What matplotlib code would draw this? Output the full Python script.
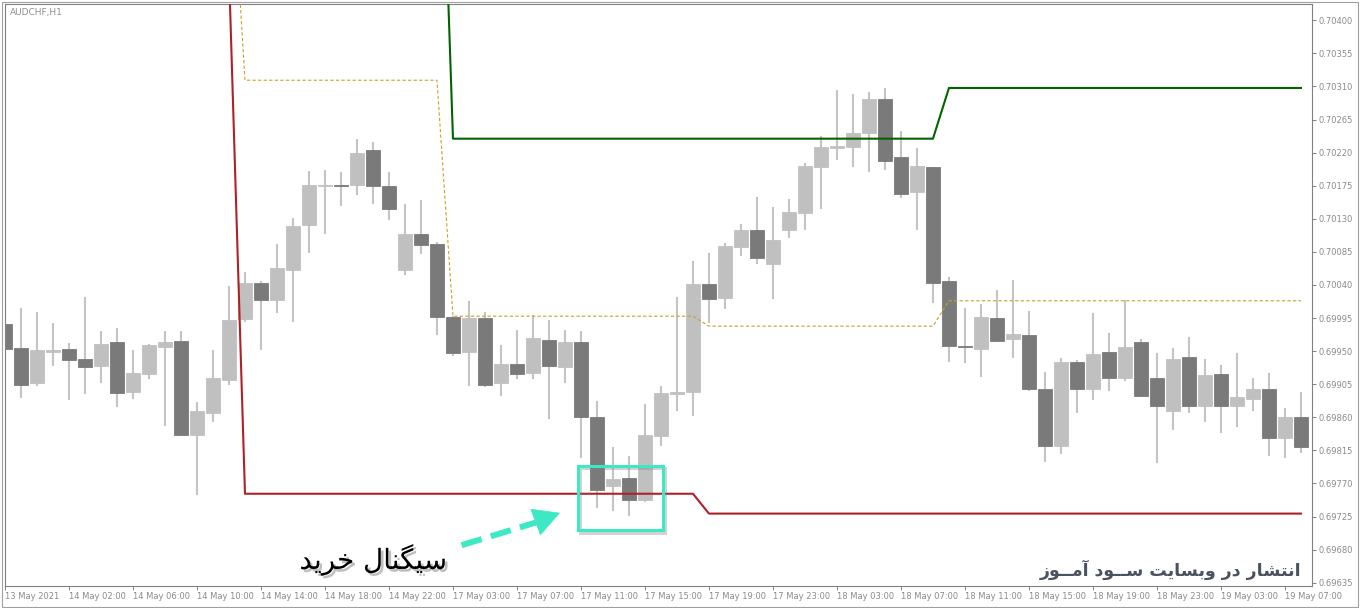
import numpy as np
import matplotlib

matplotlib.use("Agg")
from matplotlib import pyplot as plt
from matplotlib import patheffects as pe
from matplotlib import font_manager, ft2font
from matplotlib.patches import Rectangle

nan = np.nan

# AUDCHF H1 candles, bar 0 = 13 May 2021 22:00
opens = [0.69987, 0.69954, 0.69906, 0.69949, 0.69953, 0.69939, 0.69930, 0.69962, 0.69894, 0.69919,
         0.69955, 0.69964, 0.69836, 0.69866, 0.69911, 0.69994, 0.70042, 0.70020, 0.70061, 0.70121,
         0.70174, 0.70176, 0.70176, 0.70224, 0.70175, 0.70061, 0.70109, 0.70096, 0.69996, 0.69949,
         0.69995, 0.69906, 0.69933, 0.69920, 0.69965, 0.69928, 0.69962, 0.69860, 0.69766, 0.69778,
         0.69748, 0.69834, 0.69892, 0.69895, 0.70041, 0.70022, 0.70092, 0.70115, 0.70069, 0.70115,
         0.70138, 0.70201, 0.70227, 0.70228, 0.70247, 0.70293, 0.70214, 0.70166, 0.70200, 0.70045,
         0.69957, 0.69953, 0.69995, 0.69967, 0.69972, 0.69899, 0.69821, 0.69935, 0.69899, 0.69949,
         0.69914, 0.69962, 0.69914, 0.69869, 0.69942, 0.69875, 0.69919, 0.69875, 0.69885, 0.69899,
         0.69832, 0.69861]
highs = [0.70014, 0.70009, 0.70003, 0.69988, 0.69961, 0.70024, 0.69977, 0.69981, 0.69952, 0.69960,
         0.69977, 0.69977, 0.69881, 0.69951, 0.70039, 0.70057, 0.70046, 0.70096, 0.70131, 0.70195,
         0.70196, 0.70194, 0.70238, 0.70234, 0.70194, 0.70150, 0.70155, 0.70098, 0.69998, 0.70018,
         0.70003, 0.69958, 0.69979, 0.69999, 0.69992, 0.69979, 0.69977, 0.69882, 0.69820, 0.69808,
         0.69878, 0.69903, 0.70024, 0.70072, 0.70083, 0.70097, 0.70123, 0.70160, 0.70146, 0.70157,
         0.70206, 0.70243, 0.70305, 0.70300, 0.70303, 0.70308, 0.70249, 0.70227, 0.70201, 0.70051,
         0.70008, 0.70014, 0.70033, 0.70047, 0.70005, 0.69921, 0.69941, 0.69938, 0.70002, 0.69975,
         0.70020, 0.69966, 0.69947, 0.69954, 0.69969, 0.69939, 0.69931, 0.69948, 0.69914, 0.69920,
         0.69873, 0.69895]
lows = [0.69943, 0.69886, 0.69903, 0.69930, 0.69883, 0.69892, 0.69906, 0.69874, 0.69885, 0.69912,
        0.69848, 0.69836, 0.69754, 0.69853, 0.69904, 0.69990, 0.69952, 0.70002, 0.69990, 0.70083,
        0.70109, 0.70147, 0.70163, 0.70150, 0.70129, 0.70053, 0.70082, 0.69972, 0.69943, 0.69902,
        0.69901, 0.69889, 0.69912, 0.69912, 0.69858, 0.69907, 0.69805, 0.69737, 0.69732, 0.69726,
        0.69745, 0.69821, 0.69868, 0.69862, 0.69988, 0.70007, 0.70080, 0.70068, 0.70021, 0.70104,
        0.70115, 0.70144, 0.70210, 0.70201, 0.70194, 0.70196, 0.70158, 0.70115, 0.70016, 0.69935,
        0.69934, 0.69915, 0.69962, 0.69940, 0.69896, 0.69799, 0.69810, 0.69866, 0.69883, 0.69896,
        0.69909, 0.69888, 0.69798, 0.69843, 0.69866, 0.69853, 0.69839, 0.69847, 0.69868, 0.69808,
        0.69805, 0.69811]
closes = [0.69953, 0.69904, 0.69951, 0.69952, 0.69938, 0.69929, 0.69960, 0.69893, 0.69920, 0.69958,
          0.69962, 0.69836, 0.69869, 0.69914, 0.69992, 0.70042, 0.70019, 0.70063, 0.70120, 0.70176,
          0.70176, 0.70175, 0.70220, 0.70175, 0.70144, 0.70109, 0.70095, 0.69997, 0.69948, 0.69995,
          0.69904, 0.69933, 0.69919, 0.69968, 0.69930, 0.69962, 0.69860, 0.69761, 0.69776, 0.69748,
          0.69836, 0.69893, 0.69894, 0.70041, 0.70021, 0.70093, 0.70115, 0.70077, 0.70101, 0.70139,
          0.70202, 0.70228, 0.70229, 0.70247, 0.70293, 0.70209, 0.70164, 0.70202, 0.70043, 0.69957,
          0.69956, 0.69996, 0.69964, 0.69973, 0.69899, 0.69821, 0.69935, 0.69899, 0.69946, 0.69913,
          0.69956, 0.69889, 0.69875, 0.69939, 0.69875, 0.69918, 0.69875, 0.69888, 0.69899, 0.69832,
          0.69861, 0.69819]

# channel lines (upper / lower / middle), one value per bar
upper_line = [nan] * 14 + [0.70881] * 14 + [0.70239] * 31 + [0.70308] * 23
lower_line = [nan] * 14 + [0.70467] + [0.69756] * 29 + [0.69729] * 38
middle_line = [nan] * 14 + [0.70674] + [0.703185] * 13 + [0.699975] * 16 + [0.69984] * 15 + [0.700185] * 23

x_labels = ["13 May 2021", "14 May 02:00", "14 May 06:00", "14 May 10:00", "14 May 14:00",
            "14 May 18:00", "14 May 22:00", "17 May 03:00", "17 May 07:00", "17 May 11:00",
            "17 May 15:00", "17 May 19:00", "17 May 23:00", "18 May 03:00", "18 May 07:00",
            "18 May 11:00", "18 May 15:00", "18 May 19:00", "18 May 23:00", "19 May 03:00",
            "19 May 07:00"]
y_ticks = [0.70400, 0.70355, 0.70310, 0.70265, 0.70220, 0.70175, 0.70130, 0.70085, 0.70040,
           0.69995, 0.69950, 0.69905, 0.69860, 0.69815, 0.69770, 0.69725, 0.69680, 0.69635]

signal_text = "سیگنال خرید"
site_text = "انتشار در وبسایت ســود آمــوز"

# --- simple persian shaping (matplotlib has no complex text layout)
DUAL = {
    "ب": (0xFE8F, 0xFE90, 0xFE91, 0xFE92),
    "ت": (0xFE95, 0xFE96, 0xFE97, 0xFE98),
    "خ": (0xFEA5, 0xFEA6, 0xFEA7, 0xFEA8),
    "س": (0xFEB1, 0xFEB2, 0xFEB3, 0xFEB4),
    "ش": (0xFEB5, 0xFEB6, 0xFEB7, 0xFEB8),
    "ل": (0xFEDD, 0xFEDE, 0xFEDF, 0xFEE0),
    "م": (0xFEE1, 0xFEE2, 0xFEE3, 0xFEE4),
    "ن": (0xFEE5, 0xFEE6, 0xFEE7, 0xFEE8),
    "ی": (0xFBFC, 0xFBFD, 0xFBFE, 0xFBFF),
    "گ": (0xFB92, 0xFB93, 0xFB94, 0xFB95),
    "ـ": (0x640, 0x640, 0x640, 0x640),
}
RIGHT = {
    "ا": (0xFE8D, 0xFE8E),
    "آ": (0xFE81, 0xFE82),
    "د": (0xFEA9, 0xFEAA),
    "ر": (0xFEAD, 0xFEAE),
    "ز": (0xFEAF, 0xFEB0),
    "و": (0xFEED, 0xFEEE),
}

cmap = ft2font.FT2Font(font_manager.findfont("DejaVu Sans")).get_charmap()
if 0xFBFF not in cmap:
    DUAL["ی"] = (0xFEEF, 0xFEF0, 0xFEF3, 0xFEF4)


def shape(text):
    out = []
    for i, ch in enumerate(text):
        prev = text[i - 1] if i > 0 else ""
        nxt = text[i + 1] if i + 1 < len(text) else ""
        joins_prev = prev in DUAL and (ch in DUAL or ch in RIGHT)
        if ch in DUAL:
            joins_next = nxt in DUAL or nxt in RIGHT
            idx = {(False, False): 0, (True, False): 1, (False, True): 2, (True, True): 3}[(joins_prev, joins_next)]
            code = DUAL[ch][idx]
            out.append(chr(code) if code in cmap else ch)
        elif ch in RIGHT:
            out.append(chr(RIGHT[ch][1 if joins_prev else 0]))
        else:
            out.append(ch)
    return "".join(reversed(out))


W, H = 1360, 608
fig = plt.figure(figsize=(W / 100, H / 100), dpi=100)
fig.patch.set_facecolor("white")
ax = fig.add_axes([4.5 / W, 22 / H, (1312 - 4.5) / W, (586 - 4.3) / H])

x = np.arange(len(opens))
o = np.array(opens)
c = np.array(closes)
bull = c >= o
body_col = np.where(bull, "#c0c0c0", "#7a7a7a")

ax.vlines(x, lows, highs, color="#c4c4c4", lw=1.5, zorder=1)
ax.bar(x, np.abs(c - o), bottom=np.minimum(o, c), width=0.9, color=body_col,
       edgecolor=body_col, linewidth=0.6, zorder=2)

ax.plot(x, upper_line, color="#006400", lw=1.5, zorder=4)
ax.plot(x, lower_line, color="#ae2128", lw=1.5, zorder=4)
ax.plot(x, middle_line, color="#c9a227", lw=0.8, ls=(0, (3, 2)), zorder=3)

ax.set_xlim(-0.03, 81.69)
ax.set_ylim(0.696305, 0.704218)

ax.set_xticks(np.arange(0, len(opens), 4))
ax.set_xticklabels(x_labels)
for lab in ax.get_xticklabels():
    lab.set_ha("left")
ax.set_yticks(y_ticks)
ax.set_yticklabels([f"{v:.5f}" for v in y_ticks])
ax.yaxis.tick_right()
ax.tick_params(axis="both", direction="out", length=3, width=0.7, color="#808080",
               labelcolor="#8a8a8a", labelsize=6)
ax.tick_params(axis="y", pad=2)
ax.tick_params(axis="x", pad=1.5)
for sp in ax.spines.values():
    sp.set_color("#808080")
    sp.set_linewidth(0.8)

ax.text(0.0042, 0.9856, "AUDCHF,H1", transform=ax.transAxes, fontsize=6.5,
        color="#909090", va="center", ha="left")

# buy signal box and arrow
teal = "#3de8c4"
box = Rectangle((35.83, 0.69706), 41.14 - 35.83, 0.69794 - 0.69706, fill=False,
                edgecolor=teal, lw=2.2, zorder=6,
                path_effects=[pe.SimpleLineShadow(offset=(1.5, -1.5), shadow_color="gray", alpha=0.35),
                              pe.Normal()])
ax.add_patch(box)
ax.plot([28.54, 33.2], [0.69686, 0.69717], color=teal, lw=4.3, ls=(0, (3.5, 1.6)),
        dash_capstyle="butt", zorder=6)
ax.annotate("", xy=(34.69, 0.69730), xytext=(33.1, 0.69717),
            arrowprops=dict(arrowstyle="-|>,head_length=1.3,head_width=0.7", color=teal,
                            lw=0.5, shrinkA=0, shrinkB=0, mutation_scale=14), zorder=6)

ax.text(23.02, 0.69666, shape(signal_text), fontsize=20, color="black", ha="center",
        va="center", family=["DejaVu Sans"], zorder=7,
        path_effects=[pe.withSimplePatchShadow(offset=(2, -2), shadow_rgbFace="gray", alpha=0.5)])
ax.text(81.04, 0.69652, shape(site_text), fontsize=12.5, fontweight="bold", color="#4a5260",
        ha="right", va="center", family=["DejaVu Sans"], zorder=7)

fig.patches.append(Rectangle((1.5 / W, 1.3 / H), 1356 / W, 605.2 / H, transform=fig.transFigure,
                             fill=False, edgecolor="#a0a0a0", lw=0.8))

fig.savefig("out.png", dpi=100, facecolor="white")
